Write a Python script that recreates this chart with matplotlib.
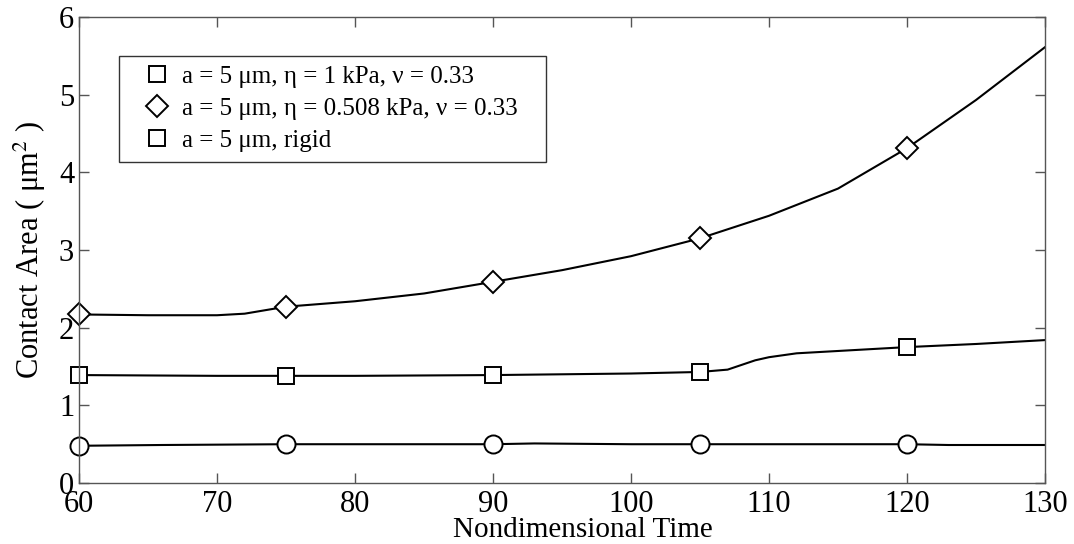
import matplotlib
matplotlib.use("Agg")
import matplotlib.pyplot as plt
from matplotlib.lines import Line2D
from matplotlib.patches import Rectangle
import numpy as np

plt.rcParams['font.family'] = ['Liberation Serif', 'DejaVu Serif']
plt.rcParams['mathtext.fontset'] = 'stix'

# Curves (nondimensional time vs contact area)
t_soft = [60, 65, 70, 72, 75, 80, 85, 90, 95, 100, 105, 110, 115, 120, 125, 130]
a_soft = [2.17, 2.16, 2.16, 2.18, 2.27, 2.34, 2.44, 2.59, 2.74, 2.92, 3.15, 3.44, 3.79, 4.31, 4.93, 5.61]

t_stiff = [60, 70, 75, 80, 90, 100, 105, 107, 108, 109, 110, 112, 115, 120, 125, 130]
a_stiff = [1.39, 1.38, 1.38, 1.38, 1.39, 1.41, 1.43, 1.46, 1.52, 1.58, 1.62, 1.67, 1.70, 1.75, 1.79, 1.84]

t_rigid = [60, 66, 75, 90, 93, 100, 105, 120, 123, 130]
a_rigid = [0.48, 0.49, 0.50, 0.50, 0.51, 0.50, 0.50, 0.50, 0.49, 0.49]

# Marker positions
t_mark = [60, 75, 90, 105, 120]
m_soft = [2.17, 2.27, 2.59, 3.15, 4.31]
m_stiff = [1.39, 1.38, 1.39, 1.43, 1.75]
m_rigid = [0.48, 0.50, 0.50, 0.50, 0.50]

labels = ["a = 5 \u03bcm, \u03b7 = 1 kPa, \u03bd = 0.33",
          "a = 5 \u03bcm, \u03b7 = 0.508 kPa, \u03bd = 0.33",
          "a = 5 \u03bcm, rigid"]

fig = plt.figure(figsize=(10.74, 5.44), dpi=100)
ax = fig.add_axes([0.0736, 0.112, 0.8994, 0.857])

lw = 1.5
ax.plot(t_soft, a_soft, color='black', lw=lw)
ax.plot(t_stiff, a_stiff, color='black', lw=lw)
ax.plot(t_rigid, a_rigid, color='black', lw=lw)
ax.plot(t_mark, m_soft, linestyle='none', marker='D', ms=11, mfc='white', mec='black', mew=1.4, clip_on=False)
ax.plot(t_mark, m_stiff, linestyle='none', marker='s', ms=11, mfc='white', mec='black', mew=1.4, clip_on=False)
ax.plot(t_mark, m_rigid, linestyle='none', marker='o', ms=13, mfc='white', mec='black', mew=1.4, clip_on=False)

ax.set_xlim(60, 130)
ax.set_ylim(0, 6)
ax.set_xticks(np.arange(60, 131, 10))
ax.set_yticks(np.arange(0, 7, 1))
ax.tick_params(direction='in', length=7, width=1, top=True, right=True, labelsize=22, colors='#555555',
               labelcolor='black')
ax.tick_params(axis='x', pad=5)
for s in ax.spines.values():
    s.set_color('#555555')
    s.set_linewidth(1.0)

fig.text(0.543, 0.012, "Nondimensional Time", fontsize=21, ha='center', va='baseline')
ax.set_ylabel("Contact Area ( \u03bcm$^2$ )", fontsize=22, labelpad=8)

# legend frame
ax.add_patch(Rectangle((0.0414, 0.689), 0.442, 0.227, transform=ax.transAxes,
                       facecolor='white', edgecolor='#333333', lw=1.0, zorder=4))

handles = [Line2D([], [], linestyle='none', marker='s', ms=11, mfc='white', mec='black', mew=1.4),
           Line2D([], [], linestyle='none', marker='D', ms=11, mfc='white', mec='black', mew=1.4),
           Line2D([], [], linestyle='none', marker='s', ms=11, mfc='white', mec='black', mew=1.4)]
leg = ax.legend(handles, labels, loc='center left', bbox_to_anchor=(0.0673, 0.803), fontsize=18,
                frameon=False, handlelength=1.0, handletextpad=0.5, labelspacing=0.38, borderpad=0.0,
                borderaxespad=0.0)
leg.set_zorder(5)

fig.savefig("out.png", dpi=100)
